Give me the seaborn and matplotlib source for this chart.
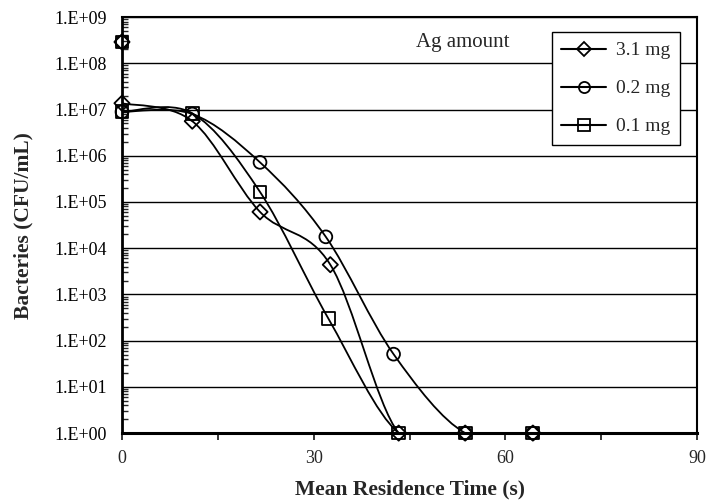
import numpy as np
import matplotlib
matplotlib.use("Agg")
import matplotlib.pyplot as plt
import seaborn as sns
from matplotlib.path import Path
from matplotlib.patches import PathPatch
from matplotlib.lines import Line2D
from matplotlib.ticker import FixedLocator, LogLocator, NullFormatter, FuncFormatter

# -----------------------------
# Data
# -----------------------------

series_labels = ["3.1 mg", "0.2 mg", "0.1 mg"]
series_markers = ["D", "o", "s"]

diamond_time = [0, 11.0, 21.6, 32.6, 43.3, 53.7, 64.3]
diamond_cfu = [1.37e7, 5.6e6, 6.1e4, 4.4e3, 1, 1, 1]

circle_time = [0, 11.0, 21.6, 31.9, 42.5, 53.7, 64.3]
circle_cfu = [8.9e6, 8.0e6, 7.2e5, 1.76e4, 51, 1, 1]

square_time = [0, 11.0, 21.6, 32.3, 43.3, 53.7, 64.3]
square_cfu = [8.9e6, 8.3e6, 1.65e5, 300, 1, 1, 1]

# initial (inlet) concentration, shown as marker only
inlet_time = [0]
inlet_cfu = [2.9e8]

x_ticks = [0, 30, 60, 90]
x_minor_ticks = [15, 45, 75]

# -----------------------------
# Styling
# -----------------------------

sns.set_style("white")
plt.rcParams["font.family"] = ["Liberation Serif", "DejaVu Serif"]


def smooth_path(xs, ys):
    # Excel-style smoothed line: cubic Bezier through the points, in (x, log y) space
    lx = np.array(xs, dtype=float)
    ly = np.log10(np.array(ys, dtype=float))
    n = len(lx)
    verts = [(lx[0], ly[0])]
    codes = [Path.MOVETO]
    for i in range(n - 1):
        p0 = max(i - 1, 0)
        p3 = min(i + 2, n - 1)
        c1 = (lx[i] + (lx[i + 1] - lx[p0]) / 6, ly[i] + (ly[i + 1] - ly[p0]) / 6)
        c2 = (lx[i + 1] - (lx[p3] - lx[i]) / 6, ly[i + 1] - (ly[p3] - ly[i]) / 6)
        verts += [c1, c2, (lx[i + 1], ly[i + 1])]
        codes += [Path.CURVE4] * 3
    verts = [(vx, 10 ** vy) for vx, vy in verts]
    return Path(verts, codes)


fig = plt.figure(figsize=(7.15, 5.03), dpi=100)
ax = fig.add_axes([0.1706, 0.139, 0.8044, 0.827])

ax.set_yscale("log")
ax.set_xlim(0, 90)
ax.set_ylim(1, 1e9)

series = [
    (diamond_time, diamond_cfu),
    (circle_time, circle_cfu),
    (square_time, square_cfu),
]

for (xs, ys), marker in zip(series, series_markers):
    patch = PathPatch(smooth_path(xs, ys), facecolor="none", edgecolor="black",
                      lw=1.3, transform=ax.transData, zorder=3)
    ax.add_patch(patch)
    size = 60 if marker == "D" else 85
    sns.scatterplot(x=xs, y=ys, marker=marker, s=size, color="black",
                    facecolor="none", edgecolor="black", linewidth=1.3,
                    clip_on=False, zorder=4, ax=ax)
    sns.scatterplot(x=inlet_time, y=inlet_cfu, marker=marker, s=size, color="black",
                    facecolor="none", edgecolor="black", linewidth=1.3,
                    clip_on=False, zorder=4, ax=ax)

# gridlines at each decade
ax.yaxis.set_major_locator(LogLocator(base=10, numticks=20))
ax.yaxis.set_minor_locator(LogLocator(base=10, subs=np.arange(2, 10), numticks=20))
ax.yaxis.set_minor_formatter(NullFormatter())
ax.yaxis.set_major_formatter(FuncFormatter(lambda v, p: f"1.E+{int(round(np.log10(v))):02d}"))
ax.grid(axis="y", which="major", color="black", lw=1.0)
ax.set_axisbelow(True)

ax.xaxis.set_major_locator(FixedLocator(x_ticks))
ax.xaxis.set_minor_locator(FixedLocator(x_minor_ticks))

ax.tick_params(axis="y", which="major", direction="inout", length=8, width=1.3,
               labelsize=13, pad=7, colors="black")
ax.tick_params(axis="y", which="minor", direction="in", length=4, width=1.0, left=True)
ax.tick_params(axis="x", which="both", direction="out", length=5, width=1.3,
               labelsize=13, pad=7, bottom=True)

for side, lw in [("left", 2.0), ("bottom", 2.2), ("top", 1.5), ("right", 1.5)]:
    ax.spines[side].set_visible(True)
    ax.spines[side].set_color("black")
    ax.spines[side].set_linewidth(lw)

ax.set_xlabel("Mean Residence Time (s)", fontsize=15.5, fontweight="bold", labelpad=9)
ax.set_ylabel("Bacteries (CFU/mL)", fontsize=15.5, fontweight="bold", labelpad=15)

ax.text(0.511, 0.94, "Ag amount", transform=ax.transAxes, fontsize=15,
        ha="left", va="center")

handles = [
    Line2D([0], [0], color="black", lw=1.5, marker=m, mfc="none", mec="black",
           mew=1.3, ms=7.5 if m == "D" else 8)
    for m in series_markers
]
leg = ax.legend(handles, series_labels, loc="upper right",
                bbox_to_anchor=(0.970, 0.964), fontsize=14, frameon=True,
                fancybox=False, edgecolor="black", framealpha=1,
                handlelength=2.3, handletextpad=0.5, labelspacing=1.05,
                borderpad=0.5, borderaxespad=0)
leg.get_frame().set_linewidth(1.0)

fig.savefig("out.png", dpi=100)
